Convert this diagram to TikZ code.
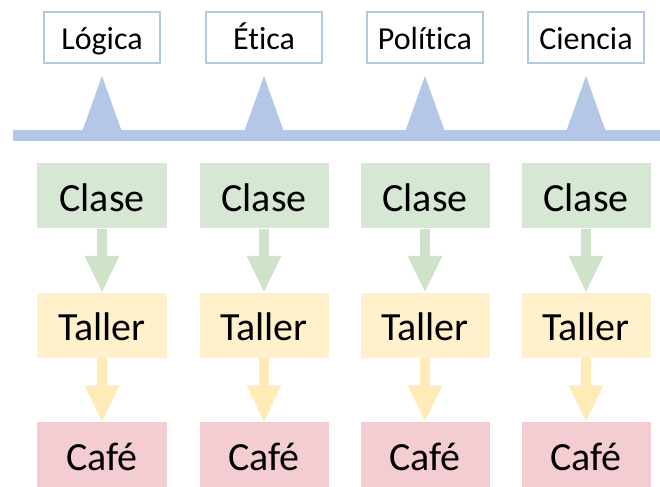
\documentclass[tikz,border=0pt]{standalone}
\usepackage{fontspec}
\setmainfont{Carlito}[Ligatures=NoCommon]
\usetikzlibrary{arrows.meta}

\definecolor{lineblue}{HTML}{B4C7E7}
\definecolor{clasegreen}{HTML}{D6E8D3}
\definecolor{arrowgreen}{HTML}{CFE3CB}
\definecolor{talleryellow}{HTML}{FFF1CC}
\definecolor{arrowyellow}{HTML}{FFEBB8}
\definecolor{cafepink}{HTML}{F3CDD2}

\begin{document}
\begin{tikzpicture}[x=1bp, y=1bp,
	topic/.style={draw=lineblue, line width=2bp, fill=white, minimum width=116bp, minimum height=51bp, inner sep=0pt, text height=28.8bp, text depth=4.2bp, font=\fontsize{32bp}{38bp}\selectfont},
	stage/.style={minimum width=129bp, minimum height=65bp, inner sep=0pt, text height=36bp, text depth=5.2bp, font=\fontsize{40bp}{48bp}\selectfont},
	flow/.style={line width=10bp, -{Triangle[width=32bp, length=37bp]}}]
		\useasboundingbox (0, 0) rectangle (660, 487);
		% temas
		\node[topic] (lo) at (102, 449.5) {Lógica};
		\node[topic] (et) at (264, 449.5) {Ética};
		\node[topic] (po) at (425, 449.5) {Política};
		\node[topic] (ci) at (586, 449.5) {Ciencia};
		% barra
		\fill[lineblue] (13, 346) rectangle (660, 357);
		\fill[lineblue] ([yshift=-12bp]lo.south) -- ++(-20, -56) -- ++(40, 0) -- cycle;
		\fill[lineblue] ([yshift=-12bp]et.south) -- ++(-20, -56) -- ++(40, 0) -- cycle;
		\fill[lineblue] ([yshift=-12bp]po.south) -- ++(-20, -56) -- ++(40, 0) -- cycle;
		\fill[lineblue] ([yshift=-12bp]ci.south) -- ++(-20, -56) -- ++(40, 0) -- cycle;
		% columnas
		\node[stage, fill=clasegreen] (cl1) at (102, 291) {Clase};
		\node[stage, fill=clasegreen] (cl2) at (264, 291) {Clase};
		\node[stage, fill=clasegreen] (cl3) at (425, 291) {Clase};
		\node[stage, fill=clasegreen] (cl4) at (586, 291) {Clase};
		\node[stage, fill=talleryellow] (ta1) at (102, 161.5) {Taller};
		\node[stage, fill=talleryellow] (ta2) at (264, 161.5) {Taller};
		\node[stage, fill=talleryellow] (ta3) at (425, 161.5) {Taller};
		\node[stage, fill=talleryellow] (ta4) at (586, 161.5) {Taller};
		\node[stage, fill=cafepink] (ca1) at (102, 32) {Café};
		\node[stage, fill=cafepink] (ca2) at (264, 32) {Café};
		\node[stage, fill=cafepink] (ca3) at (425, 32) {Café};
		\node[stage, fill=cafepink] (ca4) at (586, 32) {Café};
		\draw[flow, arrowgreen] (cl1) -- (ta1);
		\draw[flow, arrowgreen] (cl2) -- (ta2);
		\draw[flow, arrowgreen] (cl3) -- (ta3);
		\draw[flow, arrowgreen] (cl4) -- (ta4);
		\draw[flow, arrowyellow] (ta1) -- (ca1);
		\draw[flow, arrowyellow] (ta2) -- (ca2);
		\draw[flow, arrowyellow] (ta3) -- (ca3);
		\draw[flow, arrowyellow] (ta4) -- (ca4);
	\end{tikzpicture}
\end{document}
